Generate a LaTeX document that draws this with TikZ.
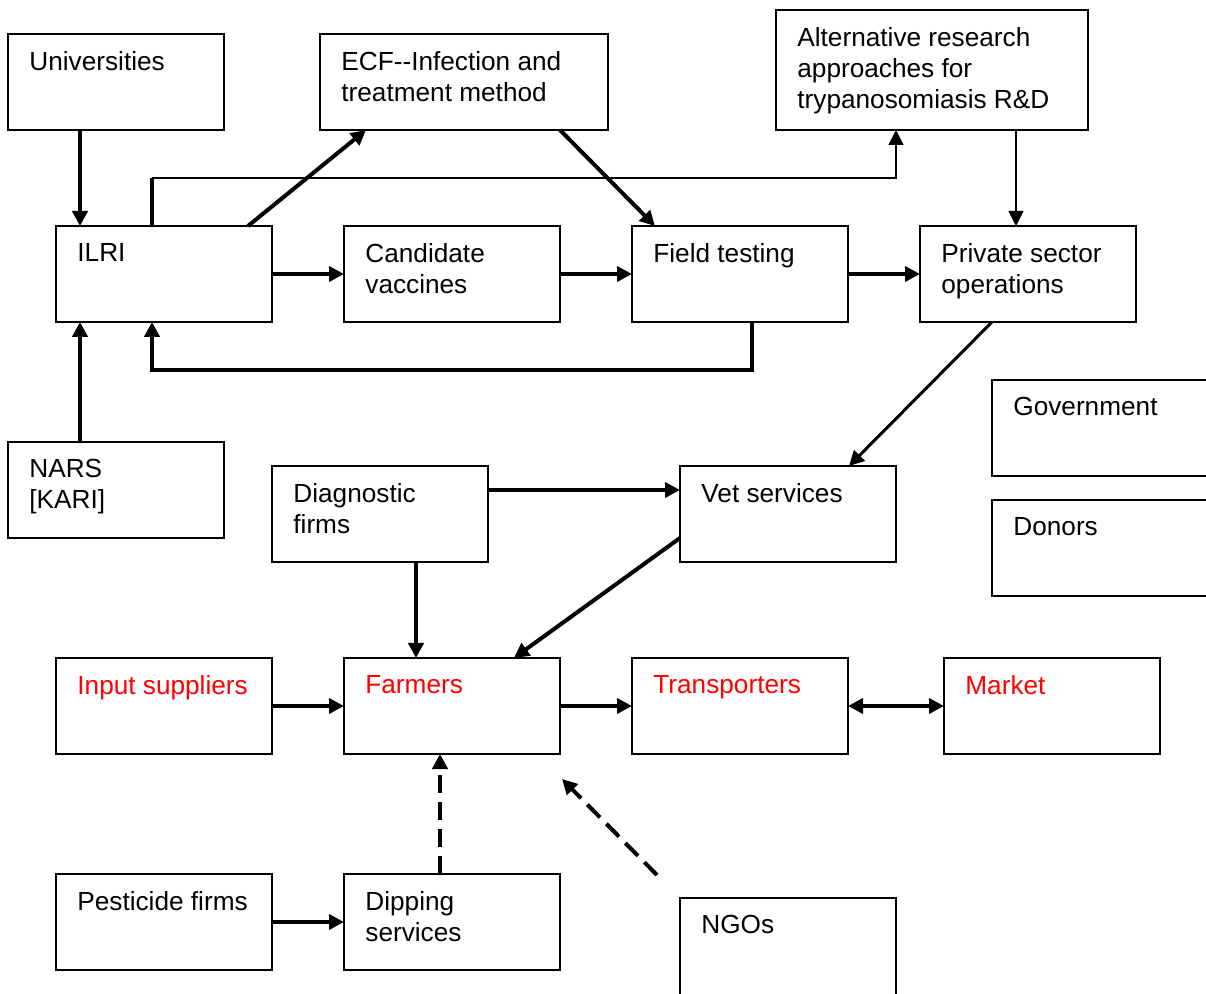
\documentclass[tikz,border=0pt]{standalone}
\usepackage{fontspec}
\setmainfont{Liberation Sans}
\usetikzlibrary{arrows.meta,calc}
\tikzset{
  box/.style={draw=black, line width=1pt, fill=white, inner sep=0pt, outer sep=0pt, anchor=north west},
  std/.style={box, minimum width=108pt, minimum height=48pt},
  txt/.style={anchor=north west, inner sep=0pt, align=left, font=\fontsize{13.1}{15.5}\selectfont},
  redtxt/.style={txt, text=red},
  tip/.style={-{Triangle[length=7.5pt,width=7.5pt]}},
  thick arrow/.style={tip, line width=2pt},
  thin arrow/.style={tip, line width=0.85pt},
  dash arrow/.style={tip, line width=2pt, dash pattern=on 9pt off 4.5pt},
}
\begin{document}
\begin{tikzpicture}[x=0.5pt,y=-0.5pt]
\useasboundingbox (0,0) rectangle (1206,994);
% boxes
\node[std] (uni) at (8,34) {};
\node[box, minimum width=144pt, minimum height=48pt] (ecf) at (320,34) {};
\node[box, minimum width=156pt, minimum height=60pt] (alt) at (776,10) {};
\node[std] (ilri) at (56,226) {};
\node[std] (cand) at (344,226) {};
\node[std] (field) at (632,226) {};
\node[std] (priv) at (920,226) {};
\node[std] (gov) at (992,380) {};
\node[std] (don) at (992,500) {};
\node[std] (nars) at (8,442) {};
\node[std] (diag) at (272,466) {};
\node[std] (vet) at (680,466) {};
\node[std] (inp) at (56,658) {};
\node[std] (farm) at (344,658) {};
\node[std] (trans) at (632,658) {};
\node[std] (mkt) at (944,658) {};
\node[std] (pest) at (56,874) {};
\node[std] (dip) at (344,874) {};
\node[box, minimum width=108pt, minimum height=51pt] (ngo) at (680,898) {};
% texts
\node[txt] (uni-t) at ($(uni.north west)+(21,17)$) {Universities};
\node[txt] (ecf-t) at ($(ecf.north west)+(21,17)$) {ECF-{}-Infection and\\treatment method};
\node[txt] (alt-t) at ($(alt.north west)+(21,17)$) {Alternative research\\approaches for\\trypanosomiasis R\&D};
\node[txt] (ilri-t) at ($(ilri.north west)+(21,17)$) {ILRI};
\node[txt] (cand-t) at ($(cand.north west)+(21,17)$) {Candidate\\vaccines};
\node[txt] (field-t) at ($(field.north west)+(21,17)$) {Field testing};
\node[txt] (priv-t) at ($(priv.north west)+(21,17)$) {Private sector\\operations};
\node[txt] (gov-t) at ($(gov.north west)+(21,17)$) {Government};
\node[txt] (don-t) at ($(don.north west)+(21,17)$) {Donors};
\node[txt] (nars-t) at ($(nars.north west)+(21,17)$) {NARS\\{[KARI]}};
\node[txt] (diag-t) at ($(diag.north west)+(21,17)$) {Diagnostic\\firms};
\node[txt] (vet-t) at ($(vet.north west)+(21,17)$) {Vet services};
\node[redtxt] (inp-t) at ($(inp.north west)+(21,17)$) {Input suppliers};
\node[redtxt] (farm-t) at ($(farm.north west)+(21,17)$) {Farmers};
\node[redtxt] (trans-t) at ($(trans.north west)+(21,17)$) {Transporters};
\node[redtxt] (mkt-t) at ($(mkt.north west)+(21,17)$) {Market};
\node[txt] (pest-t) at ($(pest.north west)+(21,17)$) {Pesticide firms};
\node[txt] (dip-t) at ($(dip.north west)+(21,17)$) {Dipping\\services};
\node[txt] (ngo-t) at ($(ngo.north west)+(21,17)$) {NGOs};
% helper coordinates
\coordinate (c1) at ($(ilri.north west)+(96,-48)$);
\coordinate (c2) at ($(alt.south west)+(120,48)$);
\coordinate (fb1) at ($(field.south west)+(120,48)$);
\coordinate (fb2) at ($(ilri.south west)+(96,48)$);
\coordinate (ngo-s) at ($(ngo.north west)+(-23,-23)$);
\coordinate (ngo-e) at ($(farm.south east)+(2,25)$);
% connectors
\draw[thick arrow] ($(uni.south west)+(72,0)$) -- ($(ilri.north west)+(24,0)$);
\draw[thick arrow] ($(nars.north west)+(72,0)$) -- ($(ilri.south west)+(24,0)$);
\draw[thick arrow] ($(ilri.north west)+(192,0)$) -- ($(ecf.south west)+(46,0)$);
\draw[thick arrow] ($(ecf.south west)+(240,0)$) -- ($(field.north west)+(23,0)$);
\draw[line width=2pt] ($(ilri.north west)+(96,0)$) -- (c1);
\draw[thin arrow] (c1) -- (c2) -- ($(alt.south west)+(120,0)$);
\draw[thin arrow] ($(alt.south west)+(240,0)$) -- ($(priv.north west)+(96,0)$);
\draw[thick arrow] (ilri.east) -- (cand.west);
\draw[thick arrow] (cand.east) -- (field.west);
\draw[thick arrow] (field.east) -- (priv.west);
\draw[thick arrow] ($(field.south west)+(120,0)$) -- (fb1) -- (fb2) -- ($(ilri.south west)+(96,0)$);
\draw[tip, line width=1.5pt] ($(priv.south west)+(72,0)$) -- ($(vet.north west)+(169,0)$);
\draw[thick arrow] ($(diag.north east)+(0,24)$) -- ($(vet.north west)+(0,24)$);
\draw[thick arrow] ($(diag.south west)+(144,0)$) -- ($(farm.north west)+(72,0)$);
\draw[thick arrow] ($(vet.north west)+(0,72)$) -- ($(farm.north west)+(170,0)$);
\draw[thick arrow] (inp.east) -- (farm.west);
\draw[thick arrow] (farm.east) -- (trans.west);
\draw[line width=2pt, {Triangle[length=7.5pt,width=7.5pt]}-{Triangle[length=7.5pt,width=7.5pt]}] (trans.east) -- (mkt.west);
\draw[thick arrow] (pest.east) -- (dip.west);
\draw[dash arrow] ($(dip.north west)+(96,0)$) -- ($(farm.south west)+(96,0)$);
\draw[dash arrow] (ngo-s) -- (ngo-e);
\end{tikzpicture}
\end{document}
